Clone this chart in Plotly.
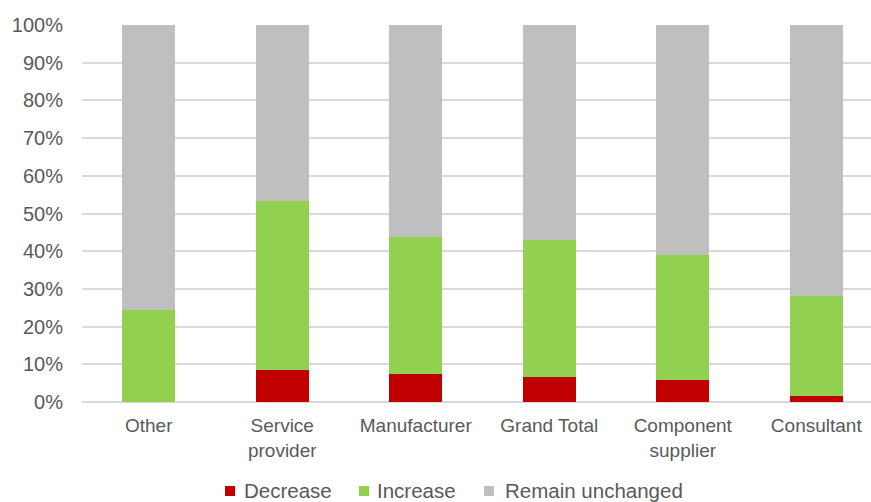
import plotly.graph_objects as go

categories = ["Other", "Service<br>provider", "Manufacturer", "Grand Total",
              "Component<br>supplier", "Consultant"]
decrease = [0.0, 0.086, 0.074, 0.066, 0.059, 0.017]
increase = [0.244, 0.446, 0.363, 0.363, 0.330, 0.263]
unchanged = [1 - d - i for d, i in zip(decrease, increase)]

series = [
    ("Decrease", decrease, "#C00000"),
    ("Increase", increase, "#92D050"),
    ("Remain unchanged", unchanged, "#BFBFBF"),
]

W, H = 871, 502
ML, MR, MT, MB = 82, 0, 25, 100
PW, PH = W - ML - MR, H - MT - MB


def px_x(px):
    return (px - ML) / PW


def px_y(py):
    return (H - MB - py) / PH


fig = go.Figure()
for name, vals, color in series:
    fig.add_trace(go.Bar(
        x=list(range(len(categories))), y=vals, name=name,
        marker=dict(color=color, line=dict(width=0)),
        width=0.40, showlegend=False,
    ))

font = "Liberation Sans, Arial, sans-serif"
grey = "#595959"

# legend drawn as swatches + labels below the plot
legend_items = [("Decrease", "#C00000", 225, 242),
                ("Increase", "#92D050", 359, 375),
                ("Remain unchanged", "#BFBFBF", 484, 503)]
shapes, annotations = [], []
for label, color, sx, tx in legend_items:
    shapes.append(dict(type="rect", xref="paper", yref="paper",
                       x0=px_x(sx), x1=px_x(sx + 10),
                       y0=px_y(496), y1=px_y(486),
                       fillcolor=color, line=dict(width=0)))
    annotations.append(dict(text=label, xref="paper", yref="paper",
                            x=px_x(tx), y=px_y(490.5), xanchor="left",
                            yanchor="middle", showarrow=False,
                            font=dict(family=font, size=20.5, color=grey)))

fig.update_layout(
    barmode="stack",
    width=W, height=H,
    margin=dict(l=ML, r=MR, t=MT, b=MB, autoexpand=False),
    paper_bgcolor="white", plot_bgcolor="white",
    font=dict(family=font, size=19, color=grey),
    showlegend=False,
    xaxis=dict(
        tickmode="array", tickvals=list(range(len(categories))),
        ticktext=categories, range=[-0.5, 5.41],
        showgrid=False, showline=False, ticks="",
        ticklabelstandoff=10,
        tickfont=dict(size=19, color=grey),
    ),
    yaxis=dict(
        range=[0, 1], tickvals=[i / 10 for i in range(11)],
        tickformat=".0%", showgrid=True, gridcolor="#D9D9D9", gridwidth=1.5,
        zeroline=True, zerolinecolor="#D9D9D9", zerolinewidth=1.5,
        ticks="", ticklabelstandoff=18,
        tickfont=dict(size=20, color=grey),
    ),
    shapes=shapes,
    annotations=annotations,
    bargap=0,
)

fig.write_html("out.html")
